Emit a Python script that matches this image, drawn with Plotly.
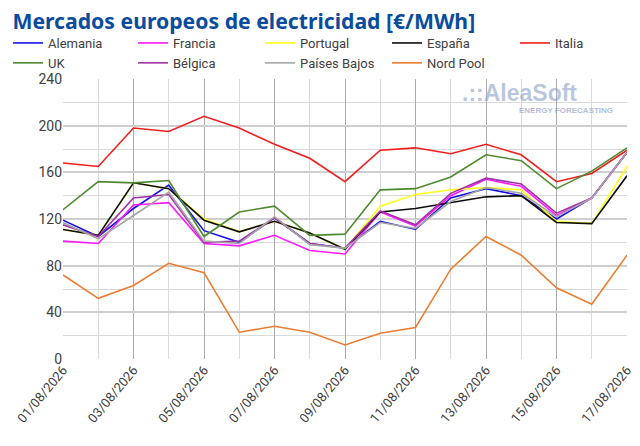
import plotly.graph_objects as go

# Precios diarios, 01/08/2026 - 17/08/2026 (€/MWh)
fechas = [f"{d:02d}/08/2026" for d in range(1, 18)]

alemania = [119, 105, 129, 149, 110, 100, 121, 99, 95, 118, 111, 138, 146, 140, 120, 138, 177]
francia = [101, 99, 132, 134, 99, 97, 106, 93, 90, 126, 114, 140, 154, 148, 123, 138, 177]
portugal = [111, 106, 151, 146, 120, 109, 118, 108, 94, 131, 141, 145, 147, 145, 118, 116, 165]
espana = [111, 106, 151, 146, 119, 109, 118, 108, 94, 126, 129, 134, 139, 140, 117, 116, 157]
italia = [168, 165, 198, 195, 208, 198, 184, 172, 152, 179, 181, 176, 184, 175, 152, 159, 179]
uk = [128, 152, 151, 153, 105, 126, 131, 106, 107, 145, 146, 156, 175, 170, 146, 161, 181]
belgica = [115, 105, 138, 141, 100, 101, 121, 99, 95, 127, 115, 142, 155, 150, 125, 138, 177]
paises_bajos = [117, 103, 123, 143, 101, 99, 122, 98, 95, 117, 112, 135, 147, 142, 122, 138, 177]
nord_pool = [72, 52, 63, 82, 74, 23, 28, 23, 12, 22, 27, 77, 105, 89, 61, 47, 89]

series = [
    ("Alemania", alemania, "#1414E6"),
    ("Francia", francia, "#FF19FF"),
    ("Portugal", portugal, "#FFFF1A"),
    ("España", espana, "#0D0D0D"),
    ("Italia", italia, "#F01E1E"),
    ("UK", uk, "#4E8A2E"),
    ("Bélgica", belgica, "#A030A8"),
    ("Países Bajos", paises_bajos, "#A6A6A6"),
    ("Nord Pool", nord_pool, "#ED7D31"),
]

# the page puts the figure 8px in from the top-left corner, so the figure is 8px smaller
W, H = 632, 438

fig = go.Figure()
for i, (name, vals, color) in enumerate(series):
    leg = "legend" if i % 5 == 0 else f"legend{i % 5 + 1}"
    fig.add_trace(go.Scatter(x=fechas, y=vals, mode="lines", name=name, legend=leg,
                             line=dict(color=color, width=1.6)))

font = "Roboto"
fig.update_layout(
    width=W, height=H,
    margin=dict(l=55, r=13, t=71, b=87, autoexpand=False),
    paper_bgcolor="white", plot_bgcolor="white",
    font=dict(family=font, size=13, color="#404040"),
    title=dict(text="<b>Mercados europeos de electricidad [€/MWh]</b>",
               x=0.007, xanchor="left", y=0.969, yanchor="middle",
               font=dict(family="Noto Sans", size=21.2, color="#0B4C9C")),
    showlegend=True,
)

# one legend per column, 5 columns x 2 rows
col_x = [0, 125, 252, 379, 507]
for k, cx in enumerate(col_x):
    key = "legend" if k == 0 else f"legend{k + 1}"
    fig.update_layout({key: dict(
        orientation="v", xref="container", x=cx / W, xanchor="left",
        yref="container", y=1 - 20 / H, yanchor="top",
        itemwidth=30, font=dict(size=13, color="#404040"),
        bgcolor="rgba(0,0,0,0)", tracegroupgap=0,
    )})

fig.update_xaxes(
    type="category", range=[0, 16],
    tickvals=fechas[::2], ticktext=fechas[::2], tickangle=-50,
    showgrid=True, gridcolor="#ABABAB", gridwidth=1,
    minor=dict(showgrid=True, gridcolor="#DADADA", gridwidth=1, dtick=1),
    showline=False, zeroline=False, ticks="",
    tickfont=dict(size=13, color="#404040"),
)
fig.update_yaxes(
    range=[0, 240], dtick=40, tick0=0,
    showgrid=True, gridcolor="#CFCFCF", gridwidth=1.5,
    minor=dict(showgrid=True, gridcolor="#DADADA", gridwidth=1, dtick=20),
    zeroline=False, showline=False, ticks="",
    tickfont=dict(size=14, color="#404040"),
)

# logo
fig.add_annotation(xref="paper", yref="paper", x=0.704, y=0.95, xanchor="left", yanchor="middle",
                   text="<b>.::AleaSoft</b>", showarrow=False,
                   font=dict(family="Liberation Sans", size=23, color="rgba(140,160,200,0.6)"))
fig.add_annotation(xref="paper", yref="paper", x=0.979, y=0.889, xanchor="right", yanchor="middle",
                   text="<b>ENERGY FORECASTING</b>", showarrow=False,
                   font=dict(family="Liberation Sans", size=8, color="rgba(140,160,200,0.7)"))

fig.write_html("out.html")
